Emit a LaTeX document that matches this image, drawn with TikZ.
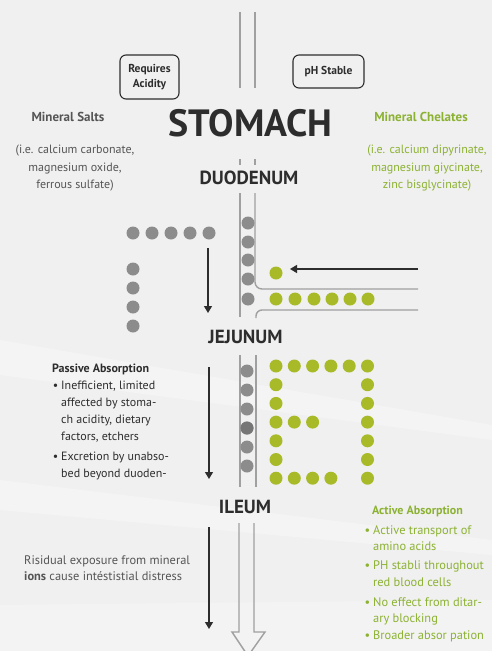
\documentclass[tikz,border=0pt]{standalone}
\usepackage{fontspec}
\setmainfont{PT Sans}
\usetikzlibrary{arrows.meta, positioning}

\definecolor{bgfill}{RGB}{240,240,240}
\definecolor{tubegray}{RGB}{160,160,160}
\definecolor{dotgray}{RGB}{140,140,140}
\definecolor{dotdark}{RGB}{118,118,118}
\definecolor{chelgreen}{RGB}{168,186,40}
\definecolor{txtgreen}{RGB}{140,178,50}
\definecolor{txtdark}{RGB}{45,45,45}
\definecolor{txtgray}{RGB}{85,85,85}

\begin{document}
\begin{tikzpicture}[
    x=1pt, y=-1pt,
    organ/.style={font=\bfseries\fontsize{19}{22}\selectfont, text=txtdark, inner sep=0pt},
    tagbox/.style={rectangle, rounded corners=6pt, draw=txtdark, line width=1.1pt, align=center, font=\bfseries\fontsize{11.5}{14.5}\selectfont, text=txtdark, inner sep=0pt},
    groupname/.style={font=\bfseries\fontsize{13}{16}\selectfont, inner sep=0pt},
    examples/.style={align=center, font=\fontsize{12}{17.5}\selectfont, inner sep=0pt},
    listhead/.style={font=\bfseries\fontsize{12}{16}\selectfont, anchor=base west, inner sep=0pt},
    listitem/.style={align=left, font=\fontsize{12}{17}\selectfont, anchor=north west, inner sep=0pt},
    tube/.style={draw=tubegray, line width=1.4pt},
    graydot/.style={circle, fill=dotgray, inner sep=0pt, minimum size=13pt},
    greendot/.style={circle, fill=chelgreen, inner sep=0pt, minimum size=13pt},
    arrow/.style={-{Triangle[length=7pt, width=8pt]}, line width=1.2pt, draw=txtdark}
]

% background
\fill[bgfill] (0,0) rectangle (492,651);
\fill[white, opacity=0.3] (0,340) -- (492,425) -- (492,440) -- (0,375) -- cycle;
\fill[white, opacity=0.3] (0,480) -- (492,540) -- (492,555) -- (0,510) -- cycle;
\fill[white, opacity=0.25] (0,605) -- (492,600) -- (492,651) -- (0,651) -- cycle;
\useasboundingbox (0,0) rectangle (492,651);

% tube
\draw[tube] (240,12) -- (240,88);
\draw[tube] (255,12) -- (255,88);
\draw[tube] (240,159) -- (240,165);
\draw[tube] (255,159) -- (255,165);
\draw[tube] (240,193) -- (240,317);
\draw[tube, rounded corners=7pt] (255,193) -- (255,289) -- (418,289);
\draw[tube, rounded corners=6pt] (418,310) -- (256,310) -- (256,318);
\draw[tube] (240,355) -- (240,487);
\draw[tube] (256,355) -- (256,487);
\draw[tube] (239,523) -- (239,632) -- (232,632) -- (248,656) -- (265,632) -- (254,632) -- (254,523);

% labels
\node[tagbox, minimum width=59pt, minimum height=44pt] (acid) at (149.5,77) {Requires\\Acidity};
\node[tagbox, minimum width=71pt, minimum height=33pt] (stable) at (328.5,71.5) {pH Stable};
\node[font=\bfseries\fontsize{38}{40}\selectfont, text=txtdark, inner sep=0pt] (stomach) at (250.5,123) {STOMACH};
\node[organ] (duodenum) at (249,178) {DUODENUM};
\node[organ] (jejunum) at (245.5,337) {JEJUNUM};
\node[organ] (ileum) at (245,507) {ILEUM};

\node[groupname, text=txtgray] (salts) at (68,117) {Mineral Salts};
\node[examples, text=txtgray, anchor=north] (saltex) at (75,145) {(i.e. calcium carbonate,\\magnesium oxide,\\ferrous sulfate)};
\node[groupname, text=txtgreen] (chelates) at (421,117) {Mineral Chelates};
\node[examples, text=txtgreen, anchor=north] (chelex) at (427,145) {(i.e. calcium dipyrinate,\\magnesium giycinate,\\zinc bisglycinate)};

% passive absorption
\node[listhead, text=txtdark] (passive) at (52,372) {Passive Absorption};
\node[listitem, text=txtdark] (passone) at (61,381) {\llap{•\hspace{3pt}}Inefficient, limited\\affected by stoma-\\ch acidity, dietary\\factors, etchers};
\node[listitem, text=txtdark] (passtwo) at (61,452) {\llap{•\hspace{3pt}}Excretion by unabso-\\bed beyond duoden-};

\node[listitem, text=txtgray, font=\fontsize{12.4}{16}\selectfont] (residual) at (24,556) {Risidual exposure from mineral\\\textbf{ions} cause intéstistial distress};

% active absorption
\node[listhead, text=txtgreen] (active) at (372,514) {Active Absorption};
\node[listitem, text=txtgreen, font=\fontsize{12.4}{16.5}\selectfont] (actone) at (373,525) {\llap{•\hspace{3pt}}Active transport of\\amino acids};
\node[listitem, text=txtgreen, font=\fontsize{12.4}{16.5}\selectfont] (acttwo) at (373,561) {\llap{•\hspace{3pt}}PH stabli throughout\\red blood cells};
\node[listitem, text=txtgreen, font=\fontsize{12.4}{16.5}\selectfont] (actthree) at (373,597) {\llap{•\hspace{3pt}}No effect from ditar-\\ary blocking};
\node[listitem, text=txtgreen, font=\fontsize{12.4}{16.5}\selectfont] (actfour) at (373,631) {\llap{•\hspace{3pt}}Broader absor pation};

% mineral salt dots
\foreach \i/\x in {1/133,2/152,3/171,4/190,5/209}
  \node[graydot] (srow\i) at (\x,233) {};
\foreach \i/\y in {1/269,2/288,3/307,4/326}
  \node[graydot] (scol\i) at (133,\y) {};
\foreach \i/\y in {1/223,2/242,3/260,4/279,5/299}
  \node[graydot] (dtube\i) at (248,\y) {};
\foreach \i/\y in {1/371,2/390,3/409,4/428,5/447,6/466}
  \node[graydot] (jtube\i) at (247,\y) {};
\node[graydot, fill=dotdark] at (jtube4) {};

% chelate dots
\node[greendot] (cin) at (276,273) {};
\foreach \i/\x in {1/276,2/295,3/314,4/332,5/350,6/368}
  \node[greendot] (crow\i) at (\x,299) {};
\foreach \c/\r in {0/0,1/0,2/0,3/0,4/0,5/0, 0/1,5/1, 0/2,5/2, 0/3,1/3,2/3,5/3,
                   0/4,5/4, 0/5,5/5, 0/6,1/6,2/6,3/6,5/6}
  \node[greendot] (cg\c\r) at (276+18.3*\c, 366+18.7*\r) {};

% arrows
\coordinate (saltsgo) at (208,248);
\coordinate (saltsend) at (208,313);
\coordinate (passgo) at (209,367);
\coordinate (passend) at (209,479);
\coordinate (resgo) at (209,527);
\coordinate (resend) at (209,629);
\coordinate (chelgo) at (418,269);
\coordinate (chelend) at (290,269);
\draw[arrow] (saltsgo) -- (saltsend);
\draw[arrow] (passgo) -- (passend);
\draw[arrow] (resgo) -- (resend);
\draw[arrow] (chelgo) -- (chelend);
\end{tikzpicture}
\end{document}
